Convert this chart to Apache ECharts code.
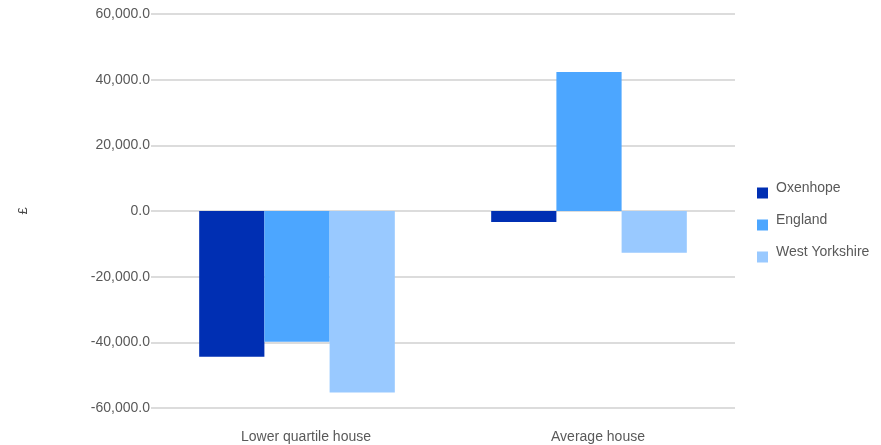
<!DOCTYPE html>
<html><head><meta charset="utf-8">
<script src="https://cdn.jsdelivr.net/npm/echarts@6/dist/echarts.min.js"></script>
<style>html,body{margin:0;padding:0;background:#fff}#c{width:881px;height:445px}</style>
</head><body><div id="c"></div>
<script>
var categories = ['Lower quartile house', 'Average house'];
var seriesNames = ['Oxenhope', 'England', 'West Yorkshire'];
var oxenhope = [-44400, -3350];
var england = [-39800, 42300];
var westYorkshire = [-55300, -12700];
var colors = ['#002fb3', '#4ca6ff', '#99c9ff'];
var yTicks = {min: -60000, max: 60000, interval: 20000};

var chart = echarts.init(document.getElementById('c'));
var font = 'Liberation Sans, Arial, sans-serif';
var dataSets = [oxenhope, england, westYorkshire];
chart.setOption({
  animation: false,
  textStyle: {fontFamily: font},
  grid: {left: 151, right: 146, top: 14, bottom: 37, containLabel: false},
  legend: {
    orient: 'vertical', left: 752, top: 176, itemWidth: 11, itemHeight: 11, itemGap: 14.5,
    icon: 'rect', data: seriesNames,
    formatter: '{t|{name}}',
    textStyle: {fontSize: 14, color: '#595959', fontFamily: font,
      rich: {t: {fontSize: 14, color: '#595959', fontFamily: font, padding: [0, 0, 10, 3]}}}
  },
  xAxis: {
    type: 'category', data: categories,
    axisLine: {show: false}, axisTick: {show: false},
    axisLabel: {fontSize: 14, color: '#595959', margin: 22, fontFamily: font, padding: [0, 0, 0, 18]}
  },
  yAxis: {
    type: 'value', min: yTicks.min, max: yTicks.max, interval: yTicks.interval,
    name: '£', nameLocation: 'middle', nameGap: 121, nameRotate: 90,
    nameTextStyle: {fontSize: 13, color: '#444', fontFamily: font},
    axisLine: {show: false}, axisTick: {show: false},
    axisLabel: {fontSize: 14, color: '#595959', margin: 1, fontFamily: font,
      formatter: function (v) { return v.toLocaleString('en-US', {minimumFractionDigits: 1, maximumFractionDigits: 1}); }},
    splitLine: {lineStyle: {color: '#dcdcdc', width: 2}}
  },
  series: seriesNames.map(function (n, i) {
    return {name: n, type: 'bar', data: dataSets[i], barGap: '0%', barCategoryGap: '33%',
      itemStyle: {color: colors[i]}};
  })
});
</script></body></html>
